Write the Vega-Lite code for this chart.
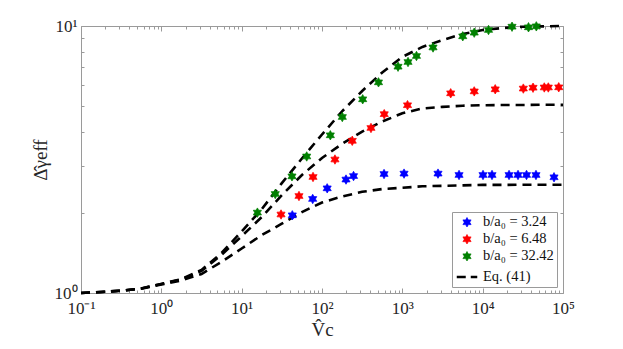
{
  "$schema": "https://vega.github.io/schema/vega-lite/v6.json",
  "width": 482,
  "height": 267,
  "autosize": "none",
  "padding": {"left": 81, "top": 26, "right": 60, "bottom": 56},
  "background": "white",
  "config": {
    "view": {"stroke": null},
    "axis": {
      "labelFont": "Liberation Serif, Times New Roman, serif",
      "labelFontSize": 17,
      "labelColor": "#262626",
      "titleFont": "Liberation Serif, Times New Roman, serif",
      "titleFontWeight": "normal",
      "titleFontSize": 19,
      "titleColor": "#262626",
      "domainColor": "#9a9a9a",
      "tickColor": "#9a9a9a",
      "grid": false,
      "labelOverlap": false,
      "labelFlush": false
    },
    "legend": {
      "labelFont": "Liberation Serif, Times New Roman, serif",
      "labelFontSize": 14.5,
      "labelColor": "#111111"
    }
  },
  "datasets": {
    "curves": [
      {"V": 0.1, "g": 1.0, "curve": "c1"}, {"V": 0.1778, "g": 1.009, "curve": "c1"}, {"V": 0.3162, "g": 1.02, "curve": "c1"}, {"V": 0.5623, "g": 1.038, "curve": "c1"}, {"V": 1, "g": 1.076, "curve": "c1"}, {"V": 1.778, "g": 1.115, "curve": "c1"}, {"V": 3.162, "g": 1.178, "curve": "c1"}, {"V": 5.623, "g": 1.309, "curve": "c1"}, {"V": 10, "g": 1.468, "curve": "c1"}, {"V": 17.78, "g": 1.648, "curve": "c1"}, {"V": 31.62, "g": 1.818, "curve": "c1"}, {"V": 56.23, "g": 2.01, "curve": "c1"}, {"V": 100, "g": 2.183, "curve": "c1"}, {"V": 177.8, "g": 2.298, "curve": "c1"}, {"V": 316.2, "g": 2.393, "curve": "c1"}, {"V": 562.3, "g": 2.452, "curve": "c1"}, {"V": 1000, "g": 2.477, "curve": "c1"}, {"V": 1778, "g": 2.51, "curve": "c1"}, {"V": 3162, "g": 2.52, "curve": "c1"}, {"V": 5623, "g": 2.53, "curve": "c1"}, {"V": 10000, "g": 2.54, "curve": "c1"}, {"V": 17783, "g": 2.54, "curve": "c1"}, {"V": 31623, "g": 2.545, "curve": "c1"}, {"V": 56234, "g": 2.545, "curve": "c1"}, {"V": 100000, "g": 2.545, "curve": "c1"},
      {"V": 0.1, "g": 1.0, "curve": "c2"}, {"V": 0.1778, "g": 1.009, "curve": "c2"}, {"V": 0.3162, "g": 1.02, "curve": "c2"}, {"V": 0.5623, "g": 1.04, "curve": "c2"}, {"V": 1, "g": 1.081, "curve": "c2"}, {"V": 1.778, "g": 1.124, "curve": "c2"}, {"V": 3.162, "g": 1.21, "curve": "c2"}, {"V": 5.623, "g": 1.39, "curve": "c2"}, {"V": 10, "g": 1.632, "curve": "c2"}, {"V": 17.78, "g": 1.926, "curve": "c2"}, {"V": 31.62, "g": 2.325, "curve": "c2"}, {"V": 56.23, "g": 2.766, "curve": "c2"}, {"V": 100, "g": 3.204, "curve": "c2"}, {"V": 177.8, "g": 3.62, "curve": "c2"}, {"V": 316.2, "g": 4.02, "curve": "c2"}, {"V": 562.3, "g": 4.39, "curve": "c2"}, {"V": 1000, "g": 4.71, "curve": "c2"}, {"V": 1778, "g": 4.91, "curve": "c2"}, {"V": 3162, "g": 4.98, "curve": "c2"}, {"V": 5623, "g": 5.03, "curve": "c2"}, {"V": 10000, "g": 5.05, "curve": "c2"}, {"V": 17783, "g": 5.06, "curve": "c2"}, {"V": 31623, "g": 5.06, "curve": "c2"}, {"V": 56234, "g": 5.07, "curve": "c2"}, {"V": 100000, "g": 5.07, "curve": "c2"},
      {"V": 0.1, "g": 1.0, "curve": "c3"}, {"V": 0.1778, "g": 1.009, "curve": "c3"}, {"V": 0.3162, "g": 1.02, "curve": "c3"}, {"V": 0.5623, "g": 1.04, "curve": "c3"}, {"V": 1, "g": 1.081, "curve": "c3"}, {"V": 1.778, "g": 1.128, "curve": "c3"}, {"V": 3.162, "g": 1.219, "curve": "c3"}, {"V": 5.623, "g": 1.413, "curve": "c3"}, {"V": 10, "g": 1.70, "curve": "c3"}, {"V": 17.78, "g": 2.06, "curve": "c3"}, {"V": 31.62, "g": 2.58, "curve": "c3"}, {"V": 56.23, "g": 3.19, "curve": "c3"}, {"V": 100, "g": 3.924, "curve": "c3"}, {"V": 177.8, "g": 4.79, "curve": "c3"}, {"V": 316.2, "g": 5.71, "curve": "c3"}, {"V": 562.3, "g": 6.70, "curve": "c3"}, {"V": 1000, "g": 7.66, "curve": "c3"}, {"V": 1778, "g": 8.35, "curve": "c3"}, {"V": 3162, "g": 8.86, "curve": "c3"}, {"V": 5623, "g": 9.33, "curve": "c3"}, {"V": 10000, "g": 9.66, "curve": "c3"}, {"V": 17783, "g": 9.83, "curve": "c3"}, {"V": 31623, "g": 9.94, "curve": "c3"}, {"V": 56234, "g": 9.97, "curve": "c3"}, {"V": 100000, "g": 10.0, "curve": "c3"}
    ],
    "stars": [
      {"V": 42.7, "g": 1.954, "series": "b/a₀ = 3.24"}, {"V": 76.6, "g": 2.25, "series": "b/a₀ = 3.24"}, {"V": 116, "g": 2.466, "series": "b/a₀ = 3.24"}, {"V": 199, "g": 2.66, "series": "b/a₀ = 3.24"}, {"V": 247, "g": 2.742, "series": "b/a₀ = 3.24"}, {"V": 592, "g": 2.79, "series": "b/a₀ = 3.24"}, {"V": 1050, "g": 2.80, "series": "b/a₀ = 3.24"}, {"V": 2780, "g": 2.80, "series": "b/a₀ = 3.24"}, {"V": 5080, "g": 2.767, "series": "b/a₀ = 3.24"}, {"V": 10100, "g": 2.767, "series": "b/a₀ = 3.24"}, {"V": 13070, "g": 2.767, "series": "b/a₀ = 3.24"}, {"V": 21300, "g": 2.767, "series": "b/a₀ = 3.24"}, {"V": 27550, "g": 2.767, "series": "b/a₀ = 3.24"}, {"V": 35150, "g": 2.767, "series": "b/a₀ = 3.24"}, {"V": 46100, "g": 2.767, "series": "b/a₀ = 3.24"}, {"V": 77300, "g": 2.713, "series": "b/a₀ = 3.24"},
      {"V": 30.9, "g": 1.968, "series": "b/a₀ = 6.48"}, {"V": 51.7, "g": 2.308, "series": "b/a₀ = 6.48"}, {"V": 77.3, "g": 2.72, "series": "b/a₀ = 6.48"}, {"V": 145, "g": 3.162, "series": "b/a₀ = 6.48"}, {"V": 238, "g": 3.716, "series": "b/a₀ = 6.48"}, {"V": 407, "g": 4.15, "series": "b/a₀ = 6.48"}, {"V": 595, "g": 4.674, "series": "b/a₀ = 6.48"}, {"V": 1160, "g": 5.05, "series": "b/a₀ = 6.48"}, {"V": 4000, "g": 5.597, "series": "b/a₀ = 6.48"}, {"V": 7850, "g": 5.69, "series": "b/a₀ = 6.48"}, {"V": 14330, "g": 5.794, "series": "b/a₀ = 6.48"}, {"V": 32070, "g": 5.83, "series": "b/a₀ = 6.48"}, {"V": 42360, "g": 5.873, "series": "b/a₀ = 6.48"}, {"V": 58500, "g": 5.886, "series": "b/a₀ = 6.48"}, {"V": 65640, "g": 5.886, "series": "b/a₀ = 6.48"}, {"V": 88500, "g": 5.894, "series": "b/a₀ = 6.48"},
      {"V": 15.7, "g": 2.0, "series": "b/a₀ = 32.42"}, {"V": 26.2, "g": 2.349, "series": "b/a₀ = 32.42"}, {"V": 42.3, "g": 2.735, "series": "b/a₀ = 32.42"}, {"V": 64.5, "g": 3.246, "series": "b/a₀ = 32.42"}, {"V": 127, "g": 3.896, "series": "b/a₀ = 32.42"}, {"V": 179, "g": 4.562, "series": "b/a₀ = 32.42"}, {"V": 321, "g": 5.315, "series": "b/a₀ = 32.42"}, {"V": 505, "g": 6.152, "series": "b/a₀ = 32.42"}, {"V": 884, "g": 7.04, "series": "b/a₀ = 32.42"}, {"V": 1177, "g": 7.33, "series": "b/a₀ = 32.42"}, {"V": 1500, "g": 7.72, "series": "b/a₀ = 32.42"}, {"V": 2410, "g": 8.31, "series": "b/a₀ = 32.42"}, {"V": 5650, "g": 9.15, "series": "b/a₀ = 32.42"}, {"V": 7850, "g": 9.44, "series": "b/a₀ = 32.42"}, {"V": 11830, "g": 9.66, "series": "b/a₀ = 32.42"}, {"V": 23200, "g": 9.94, "series": "b/a₀ = 32.42"}, {"V": 37200, "g": 9.89, "series": "b/a₀ = 32.42"}, {"V": 46550, "g": 9.97, "series": "b/a₀ = 32.42"}
    ]
  },
  "layer": [
    {
      "data": {"name": "curves"},
      "mark": {"type": "line", "color": "black", "strokeWidth": 2.6, "strokeDash": [9, 6]},
      "encoding": {
        "x": {
          "field": "V", "type": "quantitative",
          "scale": {"type": "log", "domain": [0.1, 100000], "nice": false},
          "axis": {
            "orient": "bottom",
            "title": "V̂c",
            "titlePadding": 2,
            "values": [0.1,0.2,0.3,0.4,0.5,0.6,0.7,0.8,0.9,1,2,3,4,5,6,7,8,9,10,20,30,40,50,60,70,80,90,100,200,300,400,500,600,700,800,900,1000,2000,3000,4000,5000,6000,7000,8000,9000,10000,20000,30000,40000,50000,60000,70000,80000,90000,100000],
            "labelExpr": "datum.value == 0.1 ? '10⁻¹' : datum.value == 1 ? '10⁰' : datum.value == 10 ? '10¹' : datum.value == 100 ? '10²' : datum.value == 1000 ? '10³' : datum.value == 10000 ? '10⁴' : datum.value == 100000 ? '10⁵' : ''",
            "tickSize": {"condition": {"test": "indexof([0.1,1,10,100,1000,10000,100000], datum.value) >= 0", "value": -5}, "value": -3},
            "labelPadding": 12
          }
        },
        "y": {
          "field": "g", "type": "quantitative",
          "scale": {"type": "log", "domain": [1, 10], "nice": false},
          "axis": {
            "orient": "left",
            "title": "Δ̂γeff",
            "titlePadding": 4,
            "values": [1,2,3,4,5,6,7,8,9,10],
            "labelExpr": "datum.value == 1 ? '10⁰' : datum.value == 10 ? '10¹' : ''",
            "tickSize": {"condition": {"test": "datum.value == 1 || datum.value == 10", "value": -5}, "value": -3},
            "labelPadding": 9
          }
        },
        "detail": {"field": "curve"}
      }
    },
    {
      "data": {"name": "stars"},
      "mark": {"type": "point", "filled": true, "opacity": 1},
      "encoding": {
        "x": {
          "field": "V", "type": "quantitative",
          "scale": {"type": "log", "domain": [0.1, 100000], "nice": false},
          "axis": {
            "orient": "top", "title": null, "labels": false,
            "values": [0.1,0.2,0.3,0.4,0.5,0.6,0.7,0.8,0.9,1,2,3,4,5,6,7,8,9,10,20,30,40,50,60,70,80,90,100,200,300,400,500,600,700,800,900,1000,2000,3000,4000,5000,6000,7000,8000,9000,10000,20000,30000,40000,50000,60000,70000,80000,90000,100000],
            "tickSize": {"condition": {"test": "indexof([0.1,1,10,100,1000,10000,100000], datum.value) >= 0", "value": -5}, "value": -3}
          }
        },
        "y": {
          "field": "g", "type": "quantitative",
          "scale": {"type": "log", "domain": [1, 10], "nice": false},
          "axis": {
            "orient": "right", "title": null, "labels": false,
            "values": [1,2,3,4,5,6,7,8,9,10],
            "tickSize": {"condition": {"test": "datum.value == 1 || datum.value == 10", "value": -5}, "value": -3}
          }
        },
        "color": {
          "field": "series", "type": "nominal",
          "scale": {"domain": ["b/a₀ = 3.24", "b/a₀ = 6.48", "b/a₀ = 32.42", "Eq. (41)"], "range": ["#0000ff", "#ff0000", "#008000", "#000000"]},
          "legend": {
            "title": null,
            "orient": "bottom-right",
            "offset": 6,
            "padding": 3,
            "rowPadding": 2,
            "strokeColor": "#9a9a9a",
            "fillColor": "white",
            "labelOffset": 4
          }
        },
        "stroke": {
          "field": "series", "type": "nominal",
          "scale": {"domain": ["b/a₀ = 3.24", "b/a₀ = 6.48", "b/a₀ = 32.42", "Eq. (41)"], "range": ["#0000ff", "#ff0000", "#008000", "#000000"]}
        },
        "size": {
          "field": "series", "type": "nominal",
          "scale": {"type": "ordinal", "domain": ["b/a₀ = 3.24", "b/a₀ = 6.48", "b/a₀ = 32.42", "Eq. (41)"], "range": [88, 88, 88, 420]}
        },
        "strokeWidth": {
          "field": "series", "type": "nominal",
          "scale": {"type": "ordinal", "domain": ["b/a₀ = 3.24", "b/a₀ = 6.48", "b/a₀ = 32.42", "Eq. (41)"], "range": [0.8, 0.8, 0.8, 2.6]}
        },
        "strokeDash": {
          "field": "series", "type": "nominal",
          "scale": {"domain": ["b/a₀ = 3.24", "b/a₀ = 6.48", "b/a₀ = 32.42", "Eq. (41)"], "range": [[1, 0], [1, 0], [1, 0], [9, 5]]}
        },
        "shape": {
          "field": "series", "type": "nominal",
          "scale": {"domain": ["b/a₀ = 3.24", "b/a₀ = 6.48", "b/a₀ = 32.42", "Eq. (41)"], "range": ["M0,-1L0.2887,-0.5L0.866,-0.5L0.5774,0L0.866,0.5L0.2887,0.5L0,1L-0.2887,0.5L-0.866,0.5L-0.5774,0L-0.866,-0.5L-0.2887,-0.5Z", "M0,-1L0.2887,-0.5L0.866,-0.5L0.5774,0L0.866,0.5L0.2887,0.5L0,1L-0.2887,0.5L-0.866,0.5L-0.5774,0L-0.866,-0.5L-0.2887,-0.5Z", "M0,-1L0.2887,-0.5L0.866,-0.5L0.5774,0L0.866,0.5L0.2887,0.5L0,1L-0.2887,0.5L-0.866,0.5L-0.5774,0L-0.866,-0.5L-0.2887,-0.5Z", "stroke"]}
        }
      }
    }
  ],
  "resolve": {"axis": {"x": "independent", "y": "independent"}}
}
